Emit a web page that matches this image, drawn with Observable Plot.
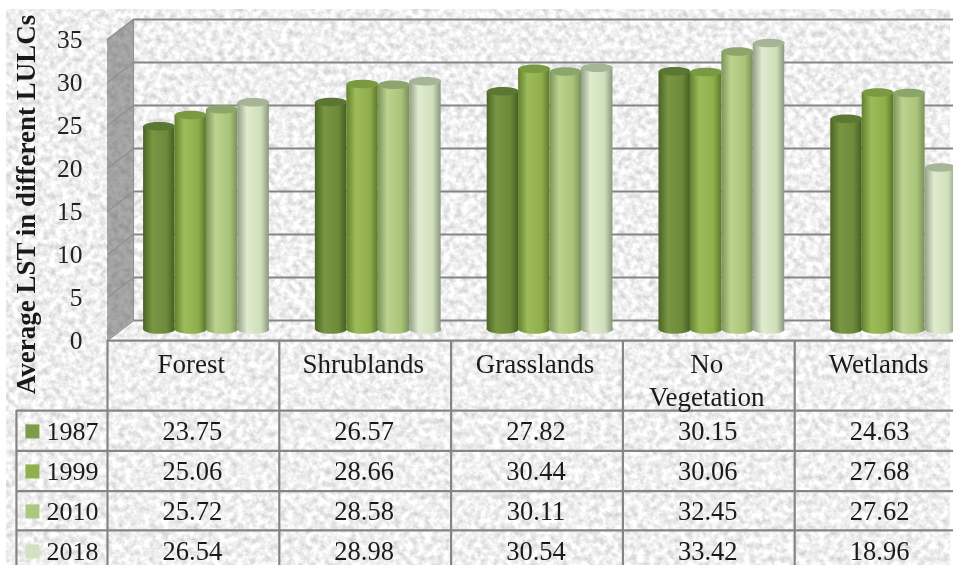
<!DOCTYPE html>
<html><head><meta charset="utf-8">
<script src="https://cdn.jsdelivr.net/npm/d3@7"></script>
<script src="https://cdn.jsdelivr.net/npm/@observablehq/plot@0.6"></script>
<style>html,body{margin:0;padding:0;background:#fff;overflow:hidden}svg{display:block;filter:blur(0.45px)}</style>
</head><body><div id="c"></div>
<script>
const categories = ["Forest","Shrublands","Grasslands","No\nVegetation","Wetlands"];
const years = ["1987","1999","2010","2018"];
const v1987 = [23.75,26.57,27.82,30.15,24.63];
const v1999 = [25.06,28.66,30.44,30.06,27.68];
const v2010 = [25.72,28.58,30.11,32.45,27.62];
const v2018 = [26.54,28.98,30.54,33.42,18.96];
const series = [v1987,v1999,v2010,v2018];
const ticks = [0,5,10,15,20,25,30,35];
const grads = [["#4a6324","#789743","#6c8a3a","#465e22"],["#62812d","#9dbb5a","#8fae4b","#5b7829"],["#7a9558","#bcd28f","#a9c478","#7a9059"],["#939f86","#e0ebcf","#cfdfba","#8a967e"]];
const caps = ["#5c7733","#7a9a42","#8ba56b","#a7b597"];
const swatch = ["#7f9a48","#8fb04c","#adc77f","#d4e0c0"];
const serif = "'Liberation Serif','Times New Roman',serif";
const line = "#858585";
// table geometry in the chart's own scale units
const xRowHead = -0.53, xBack = 0.151, xEnd = 5.02, depth = 2.33;
const rowLines = [-10.47,-15.17,-19.83,-24.4];
const rowMid = [-12.9,-17.55,-22.2,-26.85];
const barW = 0.183, barStart = 0.21;
const barDy = 10;

const ellipse = {draw(ctx,size){
  const rx=Math.sqrt(size/Math.PI), ry=rx*0.27, kx=rx*0.5523, ky=ry*0.5523;
  ctx.moveTo(-rx,0);
  ctx.bezierCurveTo(-rx,-ky,-kx,-ry,0,-ry);
  ctx.bezierCurveTo(kx,-ry,rx,-ky,rx,0);
  ctx.bezierCurveTo(rx,ky,kx,ry,0,ry);
  ctx.bezierCurveTo(-kx,ry,-rx,ky,-rx,0);
  ctx.closePath();
}};

const defsMark = (index,scales,values,dim) => {
  const g = d3.create("svg:g");
  const defs = g.append("defs");
  const f = defs.append("filter").attr("id","tex").attr("x",0).attr("y",0).attr("width","100%").attr("height","100%").attr("color-interpolation-filters","sRGB");
  f.append("feTurbulence").attr("type","fractalNoise").attr("baseFrequency",0.16).attr("numOctaves",4).attr("seed",7);
  f.append("feColorMatrix").attr("values","0.34 0 0 0 0.77  0.34 0 0 0 0.77  0.34 0 0 0 0.77  0 0 0 0 1");
  grads.forEach((c,i)=>{
    const lg = defs.append("linearGradient").attr("id","g"+i).attr("x1",0).attr("x2",1).attr("y1",0).attr("y2",0);
    [0,0.3,0.75,1].forEach((o,k)=>lg.append("stop").attr("offset",o).attr("stop-color",c[k]));
  });
  g.append("rect").attr("x",dim.marginLeft).attr("y",dim.marginTop)
    .attr("width",dim.width-dim.marginLeft-dim.marginRight).attr("height",dim.height-dim.marginTop-dim.marginBottom)
    .attr("filter","url(#tex)");
  return g.node();
};

const barMarks = series.flatMap((vals,j)=>{
  const rows = vals.map((v,c)=>({v,c,x1:c+barStart+j*barW,x2:c+barStart+(j+1)*barW,xm:c+barStart+(j+.5)*barW}));
  const fill = `url(#g${j})`;
  return [
    Plot.dot(rows,{x:"xm",y:()=>0,r:barW*171.8/2,symbol:ellipse,fill,dy:barDy-1}),
    Plot.rect(rows,{x1:"x1",x2:"x2",y1:()=>0,y2:"v",fill,dy:barDy}),
    Plot.dot(rows,{x:"xm",y:"v",r:barW*171.8/2,symbol:ellipse,fill:caps[j],dy:barDy})
  ];
});

const wall = [{x:0,y1:35-depth,y2:-depth},{x:xBack,y1:35,y2:0}];
const cols = d3.range(6);
const tableLines = [
  Plot.ruleY([-depth],{x1:0,x2:xEnd,stroke:line,strokeWidth:2.2}),
  Plot.ruleY(rowLines,{x1:xRowHead,x2:xEnd,stroke:line,strokeWidth:2.2}),
  Plot.ruleX(cols,{y1:-depth,y2:-28.49,stroke:line,strokeWidth:2.2}),
  Plot.ruleX([xRowHead],{y1:rowLines[0],y2:-28.49,stroke:line,strokeWidth:2.2})
];
const cellText = series.map((vals,j)=>Plot.text(vals,{x:(d,i)=>i+.5-.006,y:()=>rowMid[j],text:d=>d.toFixed(2),fontFamily:serif,fontSize:26.5,fill:"#1a1a1a"}));

const chart = Plot.plot({
  width:953,height:565,marginTop:9,marginLeft:6,marginRight:3,marginBottom:0,
  style:{background:"#fff",overflow:"hidden"},
  x:{axis:null,domain:[0,5],range:[107,966]},
  y:{axis:null,domain:[-28.49,35],range:[565,19]},
  marks:[
    defsMark,
    Plot.areaY(wall,{x:"x",y1:"y1",y2:"y2",fill:"#555555",fillOpacity:.5}),
    Plot.ruleY(ticks,{x1:xBack,x2:xEnd,stroke:line,strokeWidth:2.2}),
    Plot.link(ticks,{x1:()=>0,x2:()=>xBack,y1:d=>d-depth,y2:d=>d,stroke:"#8f8f8f",strokeWidth:1.2}),
    Plot.ruleX([xBack],{y1:0,y2:35,stroke:"#8f8f8f",strokeWidth:1.2}),
    ...barMarks,
    ...tableLines,
    Plot.text(ticks,{x:()=>-0.145,y:d=>d-2.35,text:String,textAnchor:"end",fontFamily:serif,fontSize:25.5,fill:"#222"}),
    Plot.text(["Average LST in different LULCs"],{x:()=>-0.47,y:()=>13.5,text:d=>d,rotate:-90,fontFamily:serif,fontSize:27,fontWeight:"bold",fill:"#1a1a1a"}),
    Plot.text(categories,{x:(d,i)=>i+.5-.012,y:()=>-3.45,text:d=>d,lineAnchor:"top",lineHeight:1.2,fontFamily:serif,fontSize:27,fill:"#1a1a1a"}),
    Plot.dot(years,{x:()=>-0.437,y:(d,i)=>rowMid[i],symbol:"square",r:7.9,fill:(d,i)=>swatch[i]}),
    Plot.text(years,{x:()=>-0.355,y:(d,i)=>rowMid[i],text:d=>d,textAnchor:"start",fontFamily:serif,fontSize:26,fill:"#1a1a1a"}),
    ...cellText
  ]
});
document.getElementById("c").append(chart);
</script></body></html>
